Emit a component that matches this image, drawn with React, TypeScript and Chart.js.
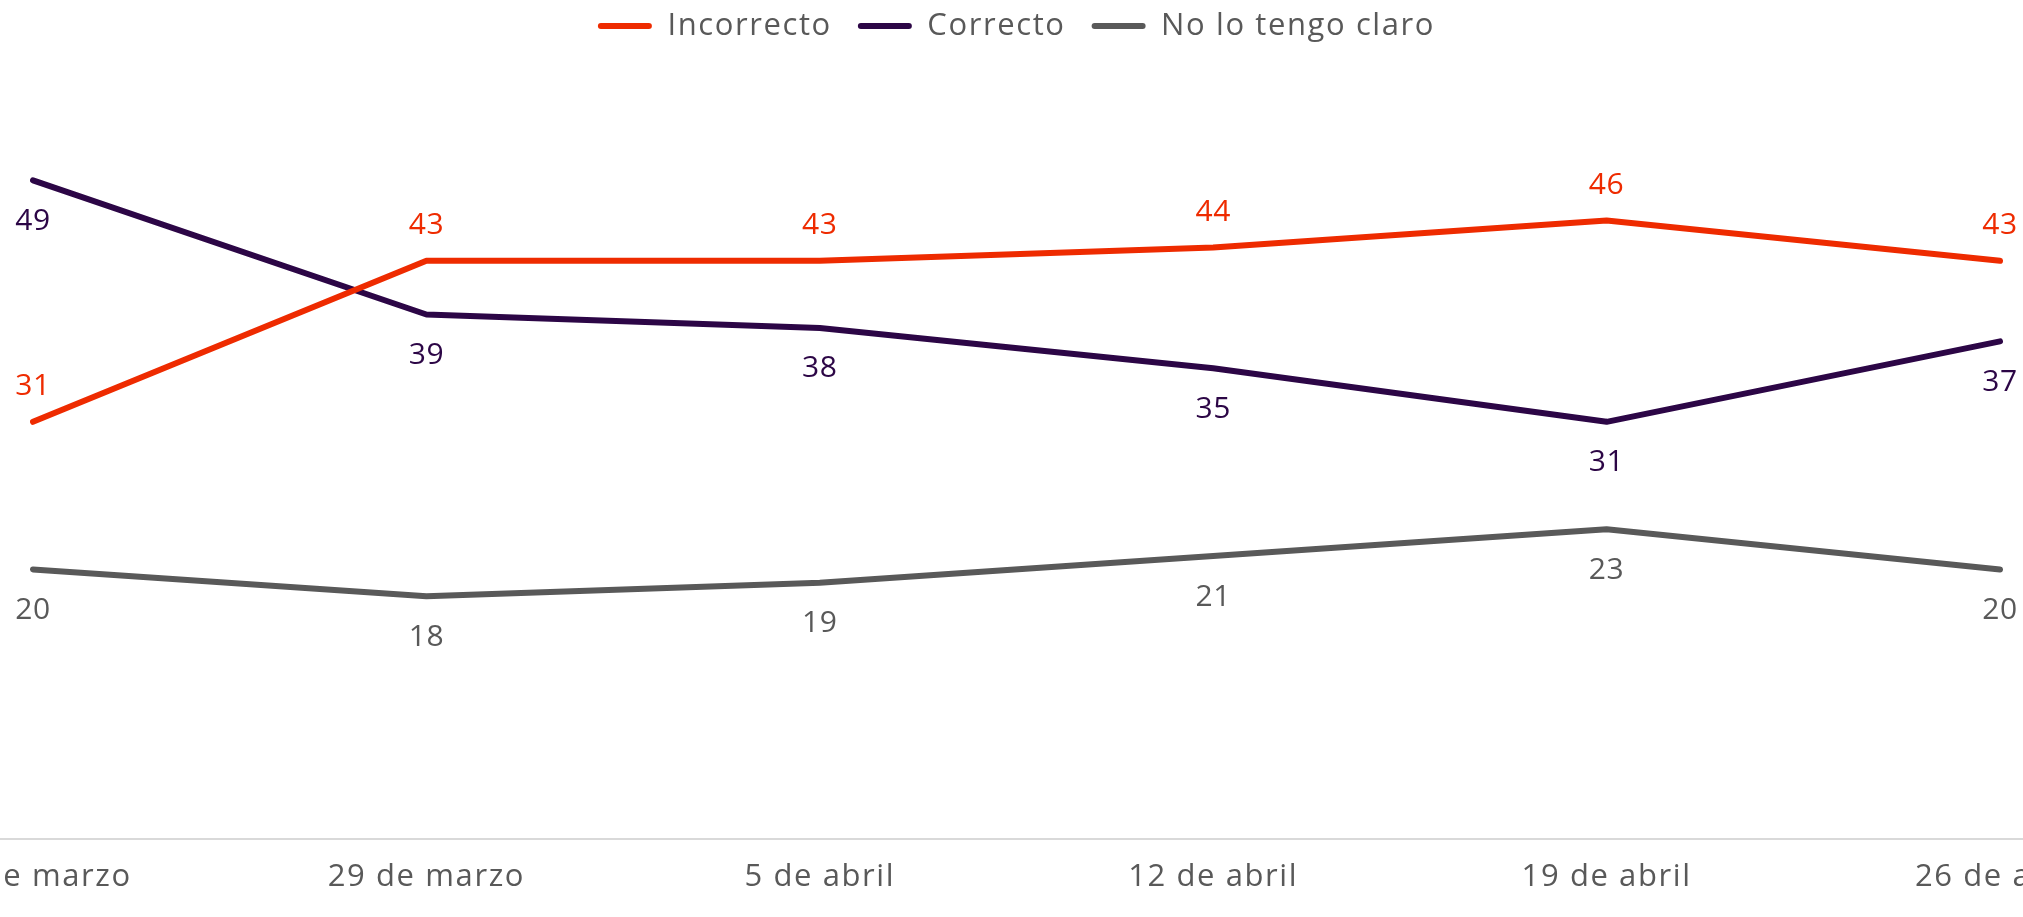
import React, { useEffect, useRef } from "react";
import { Chart, registerables } from "chart.js";

Chart.register(...registerables);

const CATEGORIES = ["22 de marzo", "29 de marzo", "5 de abril", "12 de abril", "19 de abril", "26 de abril"];
const SERIES_NAMES = ["Incorrecto", "Correcto", "No lo tengo claro"];
const INCORRECTO = [31, 43, 43, 44, 46, 43];
const CORRECTO = [49, 39, 38, 35, 31, 37];
const NO_CLARO = [20, 18, 19, 21, 23, 20];
const SERIES_COLORS = ["#EE2B00", "#2C0646", "#595959"];
const LABEL_SIDE = ["above", "below", "below"];
const Y_MIN = 0;
const Y_MAX = 58.6;

const FONT = "'Open Sans', sans-serif";
const TEXT_GRAY = "#595959";
const AXIS_GRAY = "#D9D9D9";
const LEGEND_PAD = 26;
const LETTER_SPACING = "1.6px";

const spacing = {
  id: "spacing",
  beforeLayout(chart: any) {
    try { chart.ctx.letterSpacing = LETTER_SPACING; } catch (e) {}
  },
  beforeDraw(chart: any) {
    try { chart.ctx.letterSpacing = LETTER_SPACING; } catch (e) {}
  },
};

// x-axis baseline running across the full width of the canvas
const fullAxisLine = {
  id: "fullAxisLine",
  beforeDatasetsDraw(chart: any) {
    const ctx = chart.ctx;
    const y = Math.round(chart.scales.x.top) + 1;
    ctx.save();
    ctx.strokeStyle = AXIS_GRAY;
    ctx.lineWidth = 2;
    ctx.beginPath();
    ctx.moveTo(0, y);
    ctx.lineTo(chart.width, y);
    ctx.stroke();
    ctx.restore();
  },
};

const valueLabels = {
  id: "valueLabels",
  afterDatasetsDraw(chart: any) {
    const ctx = chart.ctx;
    ctx.save();
    try { ctx.letterSpacing = "0.6px"; } catch (e) {}
    ctx.font = `500 30px ${FONT}`;
    ctx.textAlign = "center";
    ctx.textBaseline = "middle";
    chart.data.datasets.forEach((ds: any, i: number) => {
      const meta = chart.getDatasetMeta(i);
      ctx.fillStyle = SERIES_COLORS[i];
      meta.data.forEach((pt: any, j: number) => {
        const off = LABEL_SIDE[i] === "above" ? -35 : 41;
        ctx.fillText(String(ds.data[j]), pt.x, pt.y + off);
      });
    });
    ctx.restore();
  },
};

export default function App() {
  const ref = useRef<HTMLCanvasElement | null>(null);

  useEffect(() => {
    if (!ref.current) return;
    const seriesData = [INCORRECTO, CORRECTO, NO_CLARO];
    const chart = new Chart(ref.current, {
      type: "line",
      data: {
        labels: CATEGORIES,
        datasets: seriesData.map((d, i) => ({
          label: SERIES_NAMES[i],
          data: d,
          borderColor: SERIES_COLORS[i],
          backgroundColor: SERIES_COLORS[i],
          borderWidth: 6,
          borderCapStyle: "round" as const,
          borderJoinStyle: "round" as const,
          pointRadius: 0,
          pointHoverRadius: 0,
          tension: 0,
          fill: false,
        })),
      },
      options: {
        animation: false,
        responsive: true,
        maintainAspectRatio: false,
        layout: {
          padding: { top: 10.5 - LEGEND_PAD, left: 33, right: 23, bottom: 0 },
        },
        scales: {
          x: {
            grid: { display: false, drawTicks: false },
            border: { display: false },
            ticks: {
              color: TEXT_GRAY,
              font: { family: FONT, size: 31 },
              padding: 21,
              maxRotation: 0,
              autoSkip: false,
            },
            afterFit: (scale: any) => {
              scale.paddingLeft = 0;
              scale.paddingRight = 0;
            },
          },
          y: {
            display: false,
            min: Y_MIN,
            max: Y_MAX,
          },
        },
        plugins: {
          tooltip: { enabled: false },
          legend: {
            display: true,
            position: "top",
            labels: {
              color: TEXT_GRAY,
              font: { family: FONT, size: 31 },
              boxWidth: 54,
              boxHeight: 6,
              padding: LEGEND_PAD,
              useBorderRadius: true,
              borderRadius: 3,
              generateLabels: (c: any) =>
                c.data.datasets.map((ds: any, i: number) => ({
                  text: ds.label,
                  fillStyle: ds.borderColor,
                  strokeStyle: ds.borderColor,
                  lineWidth: 0,
                  borderRadius: 3,
                  hidden: false,
                  datasetIndex: i,
                  fontColor: TEXT_GRAY,
                })),
            },
          },
        },
      },
      plugins: [spacing, fullAxisLine, valueLabels],
    });
    return () => chart.destroy();
  }, []);

  return (
    <div style={{ position: "fixed", left: 0, top: 0, width: "100vw", height: "100vh", background: "#fff" }}>
      <canvas ref={ref} />
    </div>
  );
}
